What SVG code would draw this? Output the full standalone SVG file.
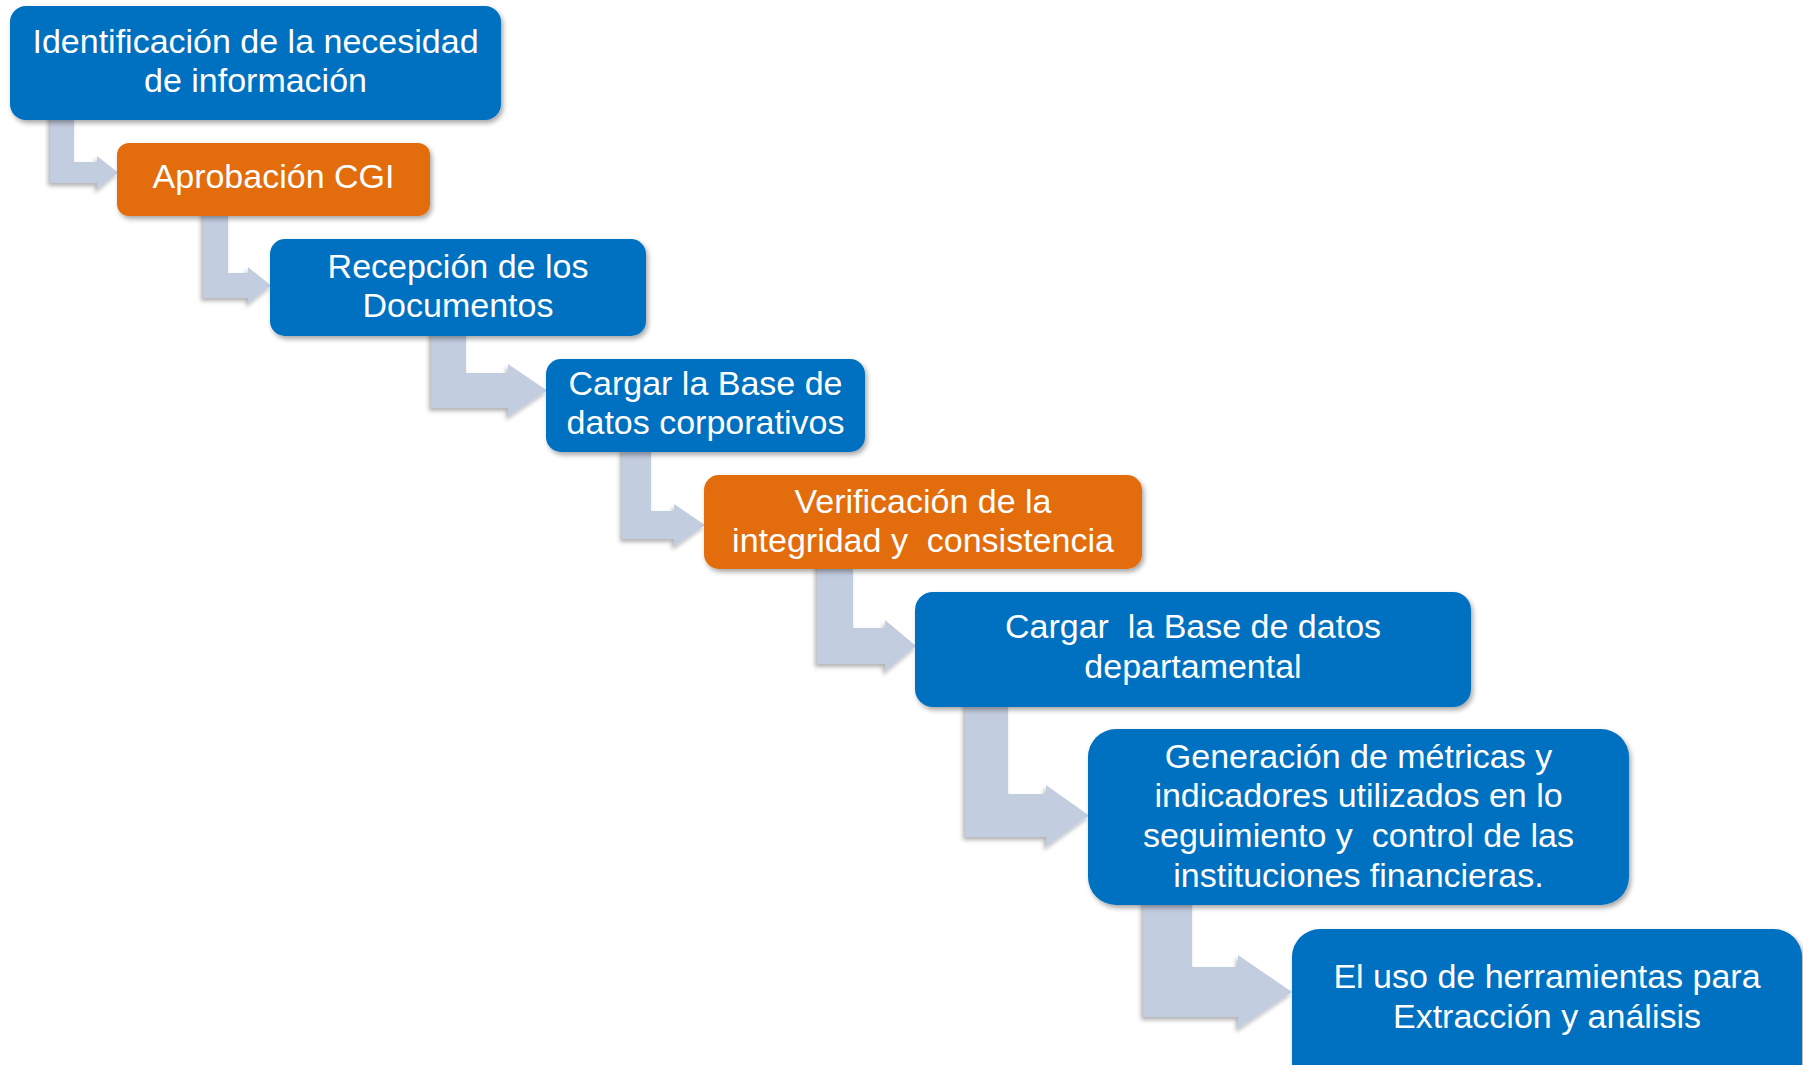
<svg xmlns="http://www.w3.org/2000/svg" width="1803" height="1065" viewBox="0 0 1803 1065">
<defs>
<filter id="sh" x="-10%" y="-10%" width="125%" height="130%">
<feDropShadow dx="2" dy="3" stdDeviation="2.5" flood-color="#000" flood-opacity="0.35"/>
</filter>
<filter id="ash" x="-10%" y="-10%" width="125%" height="130%">
<feDropShadow dx="-2" dy="3" stdDeviation="2" flood-color="#000" flood-opacity="0.3"/>
</filter>
<style>
.blue{fill:#0070c0;filter:url(#sh)}
.orange{fill:#e36c0a;filter:url(#sh)}
.arr{fill:#c3cde0;filter:url(#ash)}
text{font-family:"Liberation Sans",Arial,sans-serif;font-size:34px;fill:#ffffff;text-anchor:middle;white-space:pre}
</style>
</defs>
<rect width="1803" height="1065" fill="#ffffff"/>
<g id="connectors">
<path class="arr" d="M50,115 L74,115 L74,162 L97,162 L97,156 L118,172.5 L97,190 L97,183 L50,183 Z"/>
<path class="arr" d="M203,210 L228,210 L228,273 L248,273 L248,267 L271,285.5 L248,304 L248,298 L203,298 Z"/>
<path class="arr" d="M431,330 L466,330 L466,373 L508,373 L508,364 L547,390.5 L508,417 L508,408 L431,408 Z"/>
<path class="arr" d="M622,447 L651,447 L651,511 L674,511 L674,504 L705,525 L674,547 L674,539 L622,539 Z"/>
<path class="arr" d="M817,563 L853,563 L853,628 L885,628 L885,620 L916,646 L885,672 L885,664 L817,664 Z"/>
<path class="arr" d="M965,700 L1008,700 L1008,794 L1046,794 L1046,785 L1089,815.5 L1046,847 L1046,837 L965,837 Z"/>
<path class="arr" d="M1143,900 L1192,900 L1192,967 L1238,967 L1238,955 L1292,992 L1238,1029 L1238,1017 L1143,1017 Z"/>
</g>
<g id="n1">
<rect class="blue" x="10" y="6" width="491" height="114" rx="16"/>
<text x="255.5" y="53">Identificación de la necesidad</text>
<text x="255.5" y="92">de información</text>
</g>
<g id="n2">
<rect class="orange" x="117" y="143" width="313" height="73" rx="12"/>
<text x="273.5" y="188">Aprobación CGI</text>
</g>
<g id="n3">
<rect class="blue" x="270" y="239" width="376" height="97" rx="15"/>
<text x="458" y="278">Recepción de los</text>
<text x="458" y="317">Documentos</text>
</g>
<g id="n4">
<rect class="blue" x="546" y="359" width="319" height="93" rx="15"/>
<text x="705.5" y="395">Cargar la Base de</text>
<text x="705.5" y="434">datos corporativos</text>
</g>
<g id="n5">
<rect class="orange" x="704" y="475" width="438" height="94" rx="15"/>
<text x="923" y="513">Verificación de la</text>
<text x="923" y="552">integridad y  consistencia</text>
</g>
<g id="n6">
<rect class="blue" x="915" y="592" width="556" height="115" rx="18"/>
<text x="1193" y="638">Cargar  la Base de datos</text>
<text x="1193" y="678">departamental</text>
</g>
<g id="n7">
<rect class="blue" x="1088" y="729" width="541" height="176" rx="28"/>
<text x="1358.5" y="768">Generación de métricas y</text>
<text x="1358.5" y="807">indicadores utilizados en lo</text>
<text x="1358.5" y="847">seguimiento y  control de las</text>
<text x="1358.5" y="887">instituciones financieras.</text>
</g>
<g id="n8">
<rect class="blue" x="1292" y="929" width="510" height="170" rx="28"/>
<text x="1547" y="988">El uso de herramientas para</text>
<text x="1547" y="1028">Extracción y análisis</text>
</g>
</svg>
